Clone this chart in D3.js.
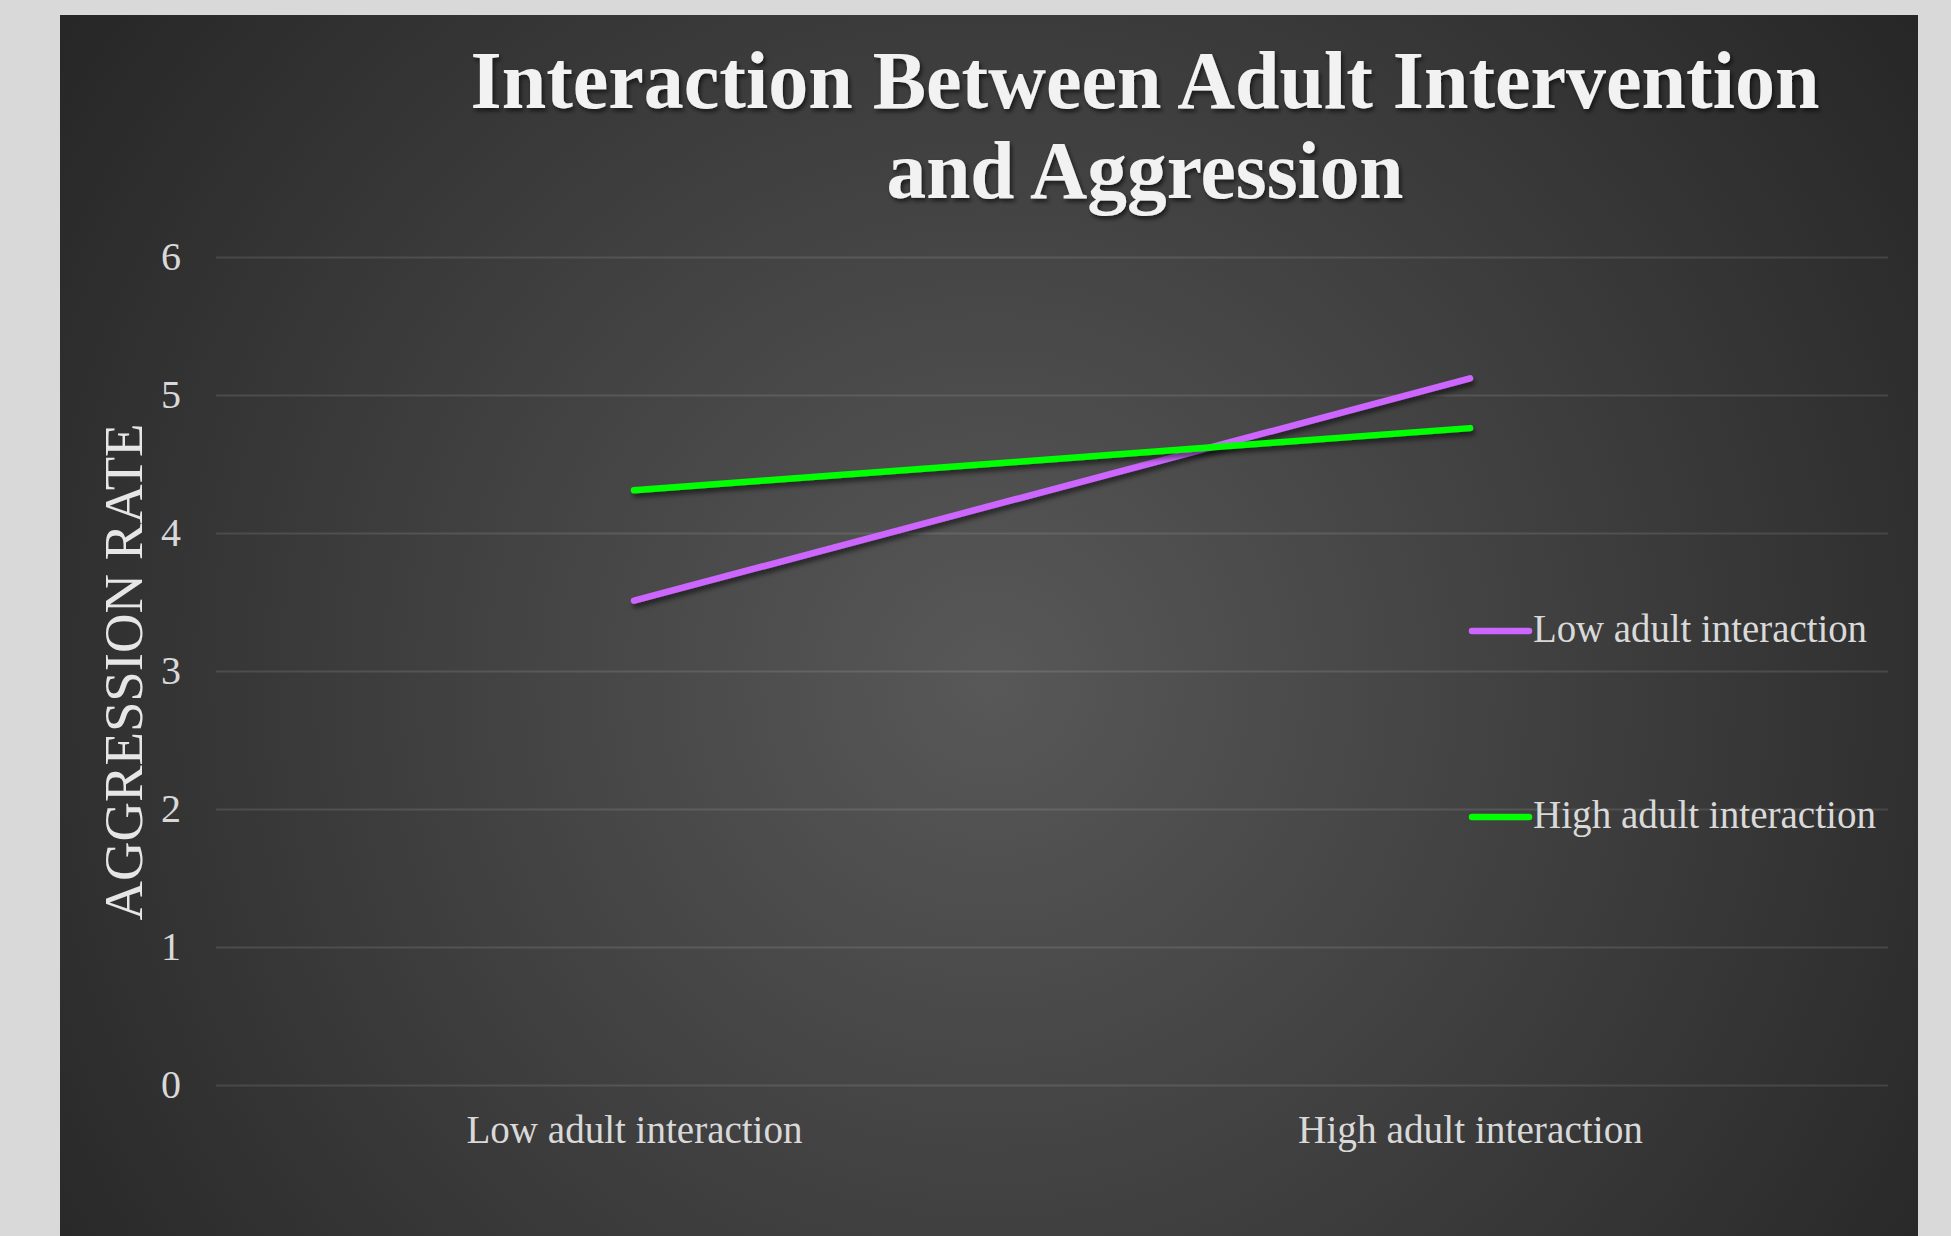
<!DOCTYPE html>
<html>
<head>
<meta charset="utf-8">
<script src="https://cdn.jsdelivr.net/npm/d3@7"></script>
<style>
  body { margin: 0; background: #d9d9d9; }
  svg { display: block; }
</style>
</head>
<body>
<script>
// interaction plot, two series over two categories

var categories = ["Low adult interaction", "High adult interaction"];
var seriesNames = ["Low adult interaction", "High adult interaction"];
var lowValues = [3.51, 5.12];
var highValues = [4.31, 4.76];
var yTicks = [0, 1, 2, 3, 4, 5, 6];
var titleLines = ["Interaction Between Adult Intervention", "and Aggression"];
var yLabel = "AGGRESSION RATE";
var colors = ["#cc66ff", "#00ff00"];

var W = 1951, H = 1236;
var serif = "'Liberation Serif', 'DejaVu Serif', serif";

var svg = d3.select("body").append("svg")
    .attr("width", W)
    .attr("height", H);

var defs = svg.append("defs");

var grad = defs.append("radialGradient")
    .attr("id", "bg")
    .attr("gradientUnits", "userSpaceOnUse")
    .attr("cx", 990).attr("cy", 680).attr("r", 1150);
grad.append("stop").attr("offset", "0").attr("stop-color", "#585858");
grad.append("stop").attr("offset", "1").attr("stop-color", "#262626");

var shadow = defs.append("filter")
    .attr("id", "lineShadow")
    .attr("x", "-10%").attr("y", "-50%")
    .attr("width", "120%").attr("height", "200%");
shadow.append("feDropShadow")
    .attr("dx", 2).attr("dy", 4)
    .attr("stdDeviation", 2.5)
    .attr("flood-color", "#000")
    .attr("flood-opacity", 0.55);

var textShadow = defs.append("filter").attr("id", "titleShadow");
textShadow.append("feDropShadow")
    .attr("dx", 2).attr("dy", 3)
    .attr("stdDeviation", 2)
    .attr("flood-color", "#000")
    .attr("flood-opacity", 0.6);

// chart panel
svg.append("rect")
    .attr("x", 60).attr("y", 15)
    .attr("width", 1858).attr("height", H - 15)
    .attr("fill", "url(#bg)");

var x = d3.scalePoint()
    .domain(categories)
    .range([216, 1888])
    .padding(0.5);

var y = d3.scaleLinear()
    .domain([0, 6])
    .range([1085, 257]);

// gridlines + y labels
var yAxis = svg.append("g")
    .attr("transform", "translate(216,0)")
    .call(d3.axisLeft(y).tickValues(yTicks).tickFormat(d3.format("d"))
        .tickSize(-1672).tickPadding(35));

yAxis.select(".domain").remove();
yAxis.selectAll(".tick line")
    .attr("stroke", "rgba(255,255,255,0.11)")
    .attr("stroke-width", 2);
yAxis.selectAll(".tick text")
    .attr("fill", "#d9d9d9")
    .style("font-family", serif)
    .style("font-size", "40px");

// x labels
var xLabelWidths = [336, 345];
var xAxis = svg.append("g")
    .attr("transform", "translate(0,1085)")
    .call(d3.axisBottom(x).tickSize(0).tickPadding(0));

xAxis.select(".domain").remove();
xAxis.selectAll(".tick text")
    .attr("dy", null)
    .attr("y", 58)
    .attr("fill", "#d9d9d9")
    .attr("textLength", function(d, i) { return xLabelWidths[i]; })
    .attr("lengthAdjust", "spacingAndGlyphs")
    .style("font-family", serif)
    .style("font-size", "39px");

// axis title
svg.append("text")
    .attr("transform", "translate(142,672) rotate(-90)")
    .attr("text-anchor", "middle")
    .attr("fill", "#e6e6e6")
    .attr("textLength", 497)
    .attr("lengthAdjust", "spacingAndGlyphs")
    .style("font-family", serif)
    .style("font-size", "54px")
    .text(yLabel);

// chart title
svg.selectAll(".title")
    .data(titleLines)
    .enter().append("text")
    .attr("class", "title")
    .attr("x", 1145)
    .attr("y", function(d, i) { return 108 + i * 90; })
    .attr("text-anchor", "middle")
    .attr("fill", "#f2f2f2")
    .attr("filter", "url(#titleShadow)")
    .attr("textLength", function(d, i) { return i == 0 ? 1349 : 517; })
    .attr("lengthAdjust", "spacingAndGlyphs")
    .style("font-family", serif)
    .style("font-weight", "bold")
    .style("font-size", "82px")
    .text(function(d) { return d; });

// lines
var series = [lowValues, highValues];
var line = d3.line()
    .x(function(d, i) { return x(categories[i]); })
    .y(function(d) { return y(d); });

svg.selectAll(".series")
    .data(series)
    .enter().append("path")
    .attr("class", "series")
    .attr("d", line)
    .attr("fill", "none")
    .attr("stroke", function(d, i) { return colors[i]; })
    .attr("stroke-width", 6.5)
    .attr("stroke-linecap", "round")
    .attr("filter", "url(#lineShadow)");

// legend
var legend = svg.selectAll(".legend")
    .data(seriesNames)
    .enter().append("g")
    .attr("class", "legend")
    .attr("transform", function(d, i) { return "translate(1472," + (631 + i * 186) + ")"; });

legend.append("line")
    .attr("x1", 0).attr("x2", 57)
    .attr("stroke", function(d, i) { return colors[i]; })
    .attr("stroke-width", 6.5)
    .attr("stroke-linecap", "round");

legend.append("text")
    .attr("x", 61)
    .attr("y", 11)
    .attr("fill", "#d9d9d9")
    .attr("textLength", function(d, i) { return i == 0 ? 334 : 343; })
    .attr("lengthAdjust", "spacingAndGlyphs")
    .style("font-family", serif)
    .style("font-size", "39px")
    .text(function(d) { return d; });
</script>
</body>
</html>
